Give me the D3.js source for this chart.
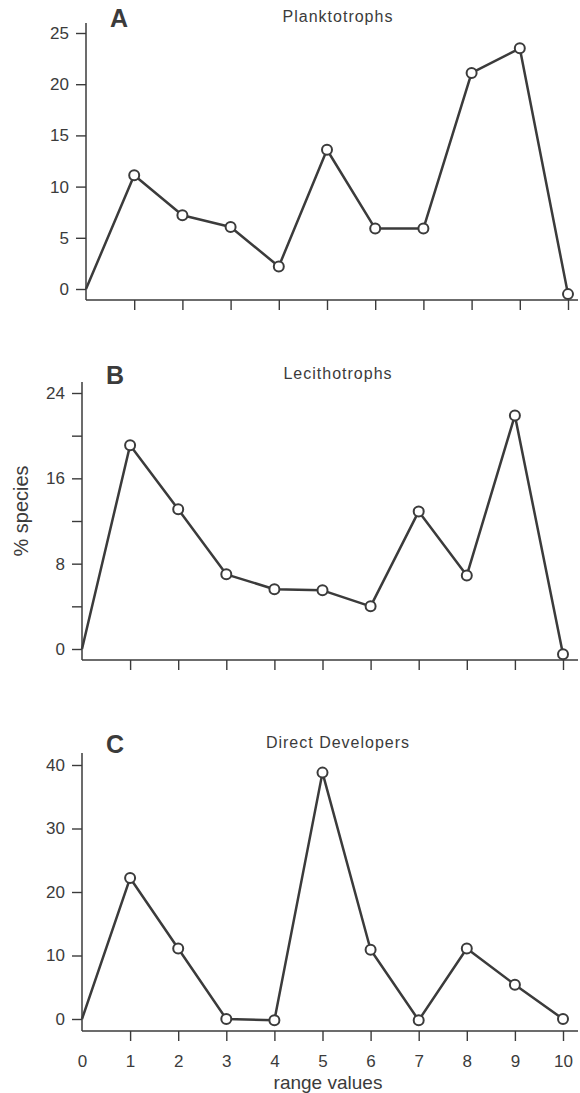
<!DOCTYPE html>
<html>
<head>
<meta charset="utf-8">
<script src="https://cdn.jsdelivr.net/npm/d3@7"></script>
<style>
  body { margin: 0; background: #fff; }
  svg { display: block; font-family: "Liberation Sans", Arial, Helvetica, sans-serif; }
</style>
</head>
<body>
<svg id="chart" width="580" height="1093"></svg>
<script>
// values
var rangeValues = [0, 1, 2, 3, 4, 5, 6, 7, 8, 9, 10];
var planktotrophs = [0, 11.1, 7.2, 6.05, 2.2, 13.6, 5.9, 5.9, 21.1, 23.5, -0.5];
var lecithotrophs = [0, 19.1, 13.1, 7.0, 5.6, 5.5, 4.0, 12.9, 6.9, 21.9, -0.5];
var directDevelopers = [0, 22.2, 11.1, 0, -0.2, 38.8, 10.9, -0.2, 11.1, 5.4, 0];

var panelLetters = ["A", "B", "C"];
var panelTitles = ["Planktotrophs", "Lecithotrophs", "Direct Developers"];
var yTicksA = [0, 5, 10, 15, 20, 25];
var yTicksB = [0, 4, 8, 12, 16, 20, 24];
var yLabelsB = [0, 8, 16, 24];
var yTicksC = [0, 10, 20, 30, 40];

var ink = "#3b3b3b";
var svg = d3.select("#chart");

// layout of each panel (pixels)
var panels = [
  { series: planktotrophs, ticks: yTicksA, labels: yTicksA, axisX: 86, right: 568,
    top: 23, y0: 289, yTop: 33, baseY: 300, titleY: 22, showX: false },
  { series: lecithotrophs, ticks: yTicksB, labels: yLabelsB, axisX: 82, right: 563,
    top: 382, y0: 649, yTop: 393, baseY: 660, titleY: 379, showX: false },
  { series: directDevelopers, ticks: yTicksC, labels: yTicksC, axisX: 82, right: 563,
    top: 753, y0: 1019, yTop: 765, baseY: 1031, titleY: 748, showX: true }
];

panels.forEach(function(p, i) {
  var g = svg.append("g");
  var x = d3.scaleLinear().domain([0, 10]).range([p.axisX, p.right]);
  var y = d3.scaleLinear().domain([0, d3.max(p.ticks)]).range([p.y0, p.yTop]);

  // y axis
  var ya = g.append("g")
    .attr("transform", "translate(" + p.axisX + ",0)")
    .call(d3.axisLeft(y).tickValues(p.ticks).tickSize(10).tickPadding(7)
      .tickFormat(function(d) { return p.labels.indexOf(d) >= 0 ? d : ""; }));
  ya.select(".domain").remove();
  ya.selectAll("line").attr("stroke", ink).attr("stroke-width", 1.4);
  ya.selectAll("text").attr("fill", ink).attr("font-size", 17);
  g.append("line")
    .attr("x1", p.axisX).attr("x2", p.axisX)
    .attr("y1", p.top).attr("y2", p.baseY)
    .attr("stroke", ink).attr("stroke-width", 1.5);

  // x axis
  var xa = g.append("g")
    .attr("transform", "translate(0," + p.baseY + ")")
    .call(d3.axisBottom(x).tickValues(rangeValues).tickSize(10).tickPadding(14)
      .tickFormat(function(d) { return p.showX ? d : ""; }));
  xa.select(".domain").remove();
  xa.selectAll("line").attr("stroke", ink).attr("stroke-width", 1.4)
    .filter(function(d) { return d === 0; }).remove();
  xa.selectAll("text").attr("fill", ink).attr("font-size", 17);
  g.append("line")
    .attr("x1", p.axisX).attr("x2", 578)
    .attr("y1", p.baseY).attr("y2", p.baseY)
    .attr("stroke", ink).attr("stroke-width", 1.5);

  // series line + open circles
  var pts = rangeValues.map(function(r, k) { return [r, p.series[k]]; });
  g.append("path")
    .datum(pts)
    .attr("fill", "none")
    .attr("stroke", ink)
    .attr("stroke-width", 2.5)
    .attr("stroke-linejoin", "round")
    .attr("d", d3.line().x(function(d) { return x(d[0]); }).y(function(d) { return y(d[1]); }));
  g.selectAll("circle")
    .data(pts.slice(1))
    .enter()
      .append("circle")
      .attr("cx", function(d) { return x(d[0]); })
      .attr("cy", function(d) { return y(d[1]); })
      .attr("r", 5)
      .attr("fill", "#fff")
      .attr("stroke", ink)
      .attr("stroke-width", 2);

  // panel letter + title
  g.append("text")
    .attr("x", p.axisX + 24).attr("y", p.titleY + 5)
    .attr("font-size", 25).attr("font-weight", "bold").attr("fill", ink)
    .text(panelLetters[i]);
  g.append("text")
    .attr("x", 338).attr("y", p.titleY)
    .attr("text-anchor", "middle").attr("font-size", 16)
    .attr("letter-spacing", 1).attr("fill", ink)
    .text(panelTitles[i]);
});

// shared axis titles
svg.append("text")
  .attr("transform", "translate(28,511) rotate(-90)")
  .attr("text-anchor", "middle").attr("font-size", 20).attr("fill", ink)
  .text("% species");
svg.append("text")
  .attr("x", 328).attr("y", 1089)
  .attr("text-anchor", "middle").attr("font-size", 19).attr("fill", ink)
  .text("range values");
</script>
</body>
</html>
